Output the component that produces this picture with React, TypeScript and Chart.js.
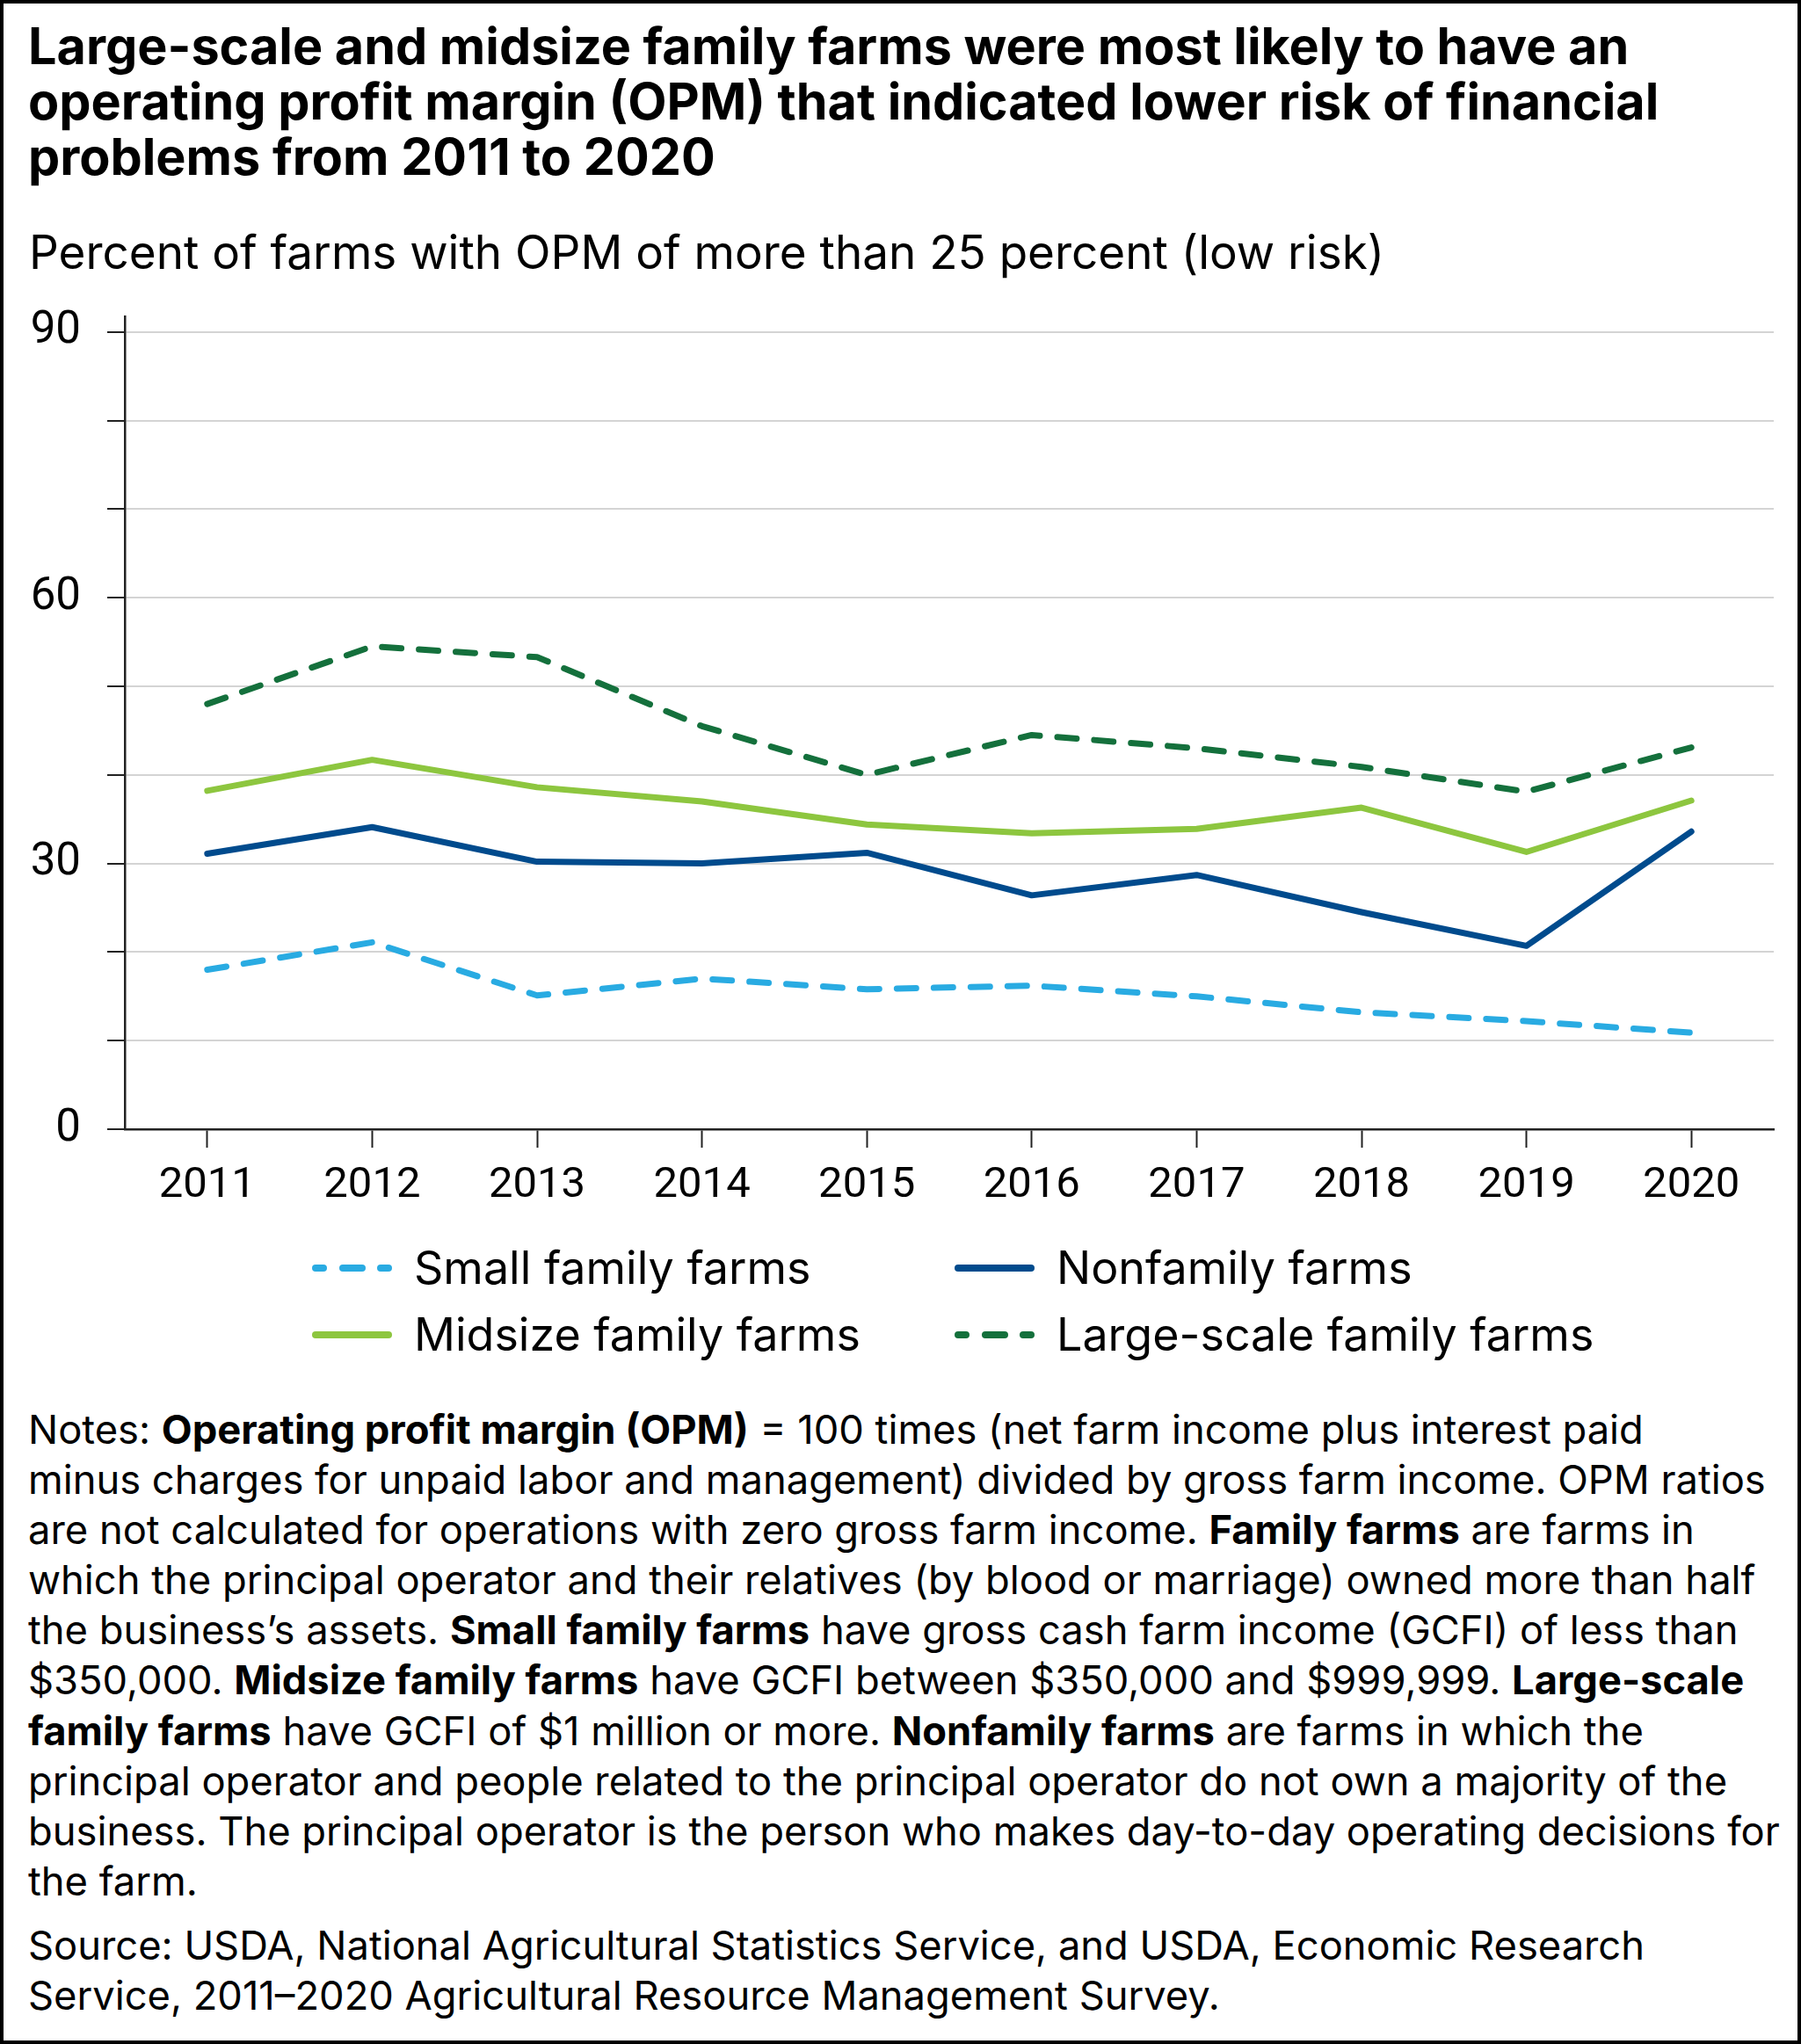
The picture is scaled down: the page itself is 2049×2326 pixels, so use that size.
import { useEffect, useRef } from "react"
import { Chart, registerables } from "chart.js"

Chart.register(...registerables)

document.body.style.margin = "0"

// values (percent of farms)
const years = ["2011", "2012", "2013", "2014", "2015", "2016", "2017", "2018", "2019", "2020"]
const smallFamily = [18.0, 21.1, 15.1, 17.0, 15.8, 16.2, 15.0, 13.2, 12.2, 10.9]
const nonfamily = [31.1, 34.1, 30.2, 30.0, 31.2, 26.4, 28.7, 24.5, 20.7, 33.6]
const midsizeFamily = [38.2, 41.7, 38.6, 37.0, 34.4, 33.4, 33.9, 36.3, 31.3, 37.1]
const largeScaleFamily = [48.0, 54.5, 53.3, 45.5, 40.0, 44.5, 43.0, 40.9, 38.1, 43.1]
const yTickLabels = ["0", "30", "60", "90"]

const TEXT_FONT = "Inter, Roboto, sans-serif"
const AXIS_FONT = "Roboto, 'Noto Sans', sans-serif"

const series = [
  { label: "Small family farms", data: smallFamily, color: "#29abe2", dashed: true },
  { label: "Nonfamily farms", data: nonfamily, color: "#004b8d", dashed: false },
  { label: "Midsize family farms", data: midsizeFamily, color: "#8dc63f", dashed: false },
  { label: "Large-scale family farms", data: largeScaleFamily, color: "#14703c", dashed: true },
]

function LegendItem({ left, top, label, color, dashed }: { left: number; top: number; label: string; color: string; dashed: boolean }) {
  return (
    <div style={{ position: "absolute", left, top, height: 62, display: "flex", alignItems: "center" }}>
      <svg width={91} height={14} style={{ display: "block" }}>
        <line
          x1={4}
          y1={7}
          x2={87}
          y2={7}
          stroke={color}
          strokeWidth={8}
          strokeLinecap="round"
          strokeDasharray={dashed ? "9 22 22 21 9 100" : undefined}
        />
      </svg>
      <span style={{ marginLeft: 25, fontSize: 52, lineHeight: "62px", whiteSpace: "nowrap" }}>{label}</span>
    </div>
  )
}

export default function App() {
  const chartRef = useRef<HTMLCanvasElement>(null)
  const chartInstance = useRef<Chart | null>(null)

  useEffect(() => {
    if (!chartRef.current) return
    if (chartInstance.current) chartInstance.current.destroy()

    const ctx = chartRef.current.getContext("2d")
    if (!ctx) return

    chartInstance.current = new Chart(ctx, {
      type: "line",
      data: {
        labels: years,
        datasets: series.map((s) => ({
          label: s.label,
          data: s.data,
          borderColor: s.color,
          backgroundColor: s.color,
          borderWidth: 7,
          borderDash: s.dashed ? [22, 20] : [],
          borderCapStyle: "round" as const,
          borderJoinStyle: "round" as const,
          pointRadius: 0,
          tension: 0,
        })),
      },
      options: {
        animation: false,
        responsive: true,
        maintainAspectRatio: false,
        layout: { padding: { top: 53, right: 31, bottom: 0, left: 0 } },
        plugins: {
          legend: { display: false },
          tooltip: { enabled: false },
        },
        scales: {
          x: {
            offset: true,
            afterFit: (scale) => {
              scale.height = 115
            },
            grid: {
              drawOnChartArea: false,
              tickLength: 21,
              tickColor: "#222",
              tickWidth: 2,
            },
            border: { display: true, color: "#222", width: 2.5 },
            ticks: {
              color: "#000",
              padding: 14,
              font: { family: AXIS_FONT, size: 49 },
            },
          },
          y: {
            min: 0,
            max: 91.7,
            afterFit: (scale) => {
              scale.width = 142
            },
            grid: {
              color: "#d4d4d4",
              lineWidth: 2,
              tickLength: 20,
              tickColor: "#222",
              tickWidth: 2,
            },
            border: { display: true, color: "#222", width: 2.5 },
            ticks: {
              stepSize: 10,
              includeBounds: false,
              color: "#000",
              padding: 30,
              font: { family: AXIS_FONT, size: 51 },
              callback: (value) => (yTickLabels.includes(String(value)) ? String(value) : ""),
            },
          },
        },
      },
    })

    return () => {
      if (chartInstance.current) {
        chartInstance.current.destroy()
        chartInstance.current = null
      }
    }
  }, [])

  const b = (t: string) => <b style={{ fontWeight: 700 }}>{t}</b>

  return (
    <div style={{ position: "relative", width: 2049, height: 2326, background: "#fff", fontFamily: TEXT_FONT, color: "#000", overflow: "hidden" }}>
      <div style={{ position: "absolute", left: 32, top: 21, fontSize: 57.5, lineHeight: "63px", fontWeight: 700, whiteSpace: "nowrap" }}>
        <div>Large-scale and midsize family farms were most likely to have an</div>
        <div>operating profit margin (OPM) that indicated lower risk of financial</div>
        <div>problems from 2011 to 2020</div>
      </div>
      <div style={{ position: "absolute", left: 33, top: 257, fontSize: 53, lineHeight: "60px", whiteSpace: "nowrap" }}>
        Percent of farms with OPM of more than 25 percent (low risk)
      </div>

      <div style={{ position: "absolute", left: 0, top: 300, width: 2049, height: 1100 }}>
        <canvas ref={chartRef} />
      </div>

      <LegendItem left={355} top={1412} label={series[0].label} color={series[0].color} dashed />
      <LegendItem left={1086} top={1412} label={series[1].label} color={series[1].color} dashed={false} />
      <LegendItem left={355} top={1488} label={series[2].label} color={series[2].color} dashed={false} />
      <LegendItem left={1086} top={1488} label={series[3].label} color={series[3].color} dashed />

      <div style={{ position: "absolute", left: 32, top: 1598, fontSize: 45.3, lineHeight: "57.1px", whiteSpace: "nowrap" }}>
        <div>Notes: {b("Operating profit margin (OPM)")} = 100 times (net farm income plus interest paid</div>
        <div>minus charges for unpaid labor and management) divided by gross farm income. OPM ratios</div>
        <div>are not calculated for operations with zero gross farm income. {b("Family farms")} are farms in</div>
        <div>which the principal operator and their relatives (by blood or marriage) owned more than half</div>
        <div>the business’s assets. {b("Small family farms")} have gross cash farm income (GCFI) of less than</div>
        <div>$350,000. {b("Midsize family farms")} have GCFI between $350,000 and $999,999. {b("Large-scale")}</div>
        <div>{b("family farms")} have GCFI of $1 million or more. {b("Nonfamily farms")} are farms in which the</div>
        <div>principal operator and people related to the principal operator do not own a majority of the</div>
        <div>business. The principal operator is the person who makes day-to-day operating decisions for</div>
        <div>the farm.</div>
        <div style={{ marginTop: 16 }}>Source: USDA, National Agricultural Statistics Service, and USDA, Economic Research</div>
        <div>Service, 2011–2020 Agricultural Resource Management Survey.</div>
      </div>

      <div style={{ position: "absolute", inset: 0, border: "4px solid #000", boxSizing: "border-box", pointerEvents: "none" }} />
    </div>
  )
}
